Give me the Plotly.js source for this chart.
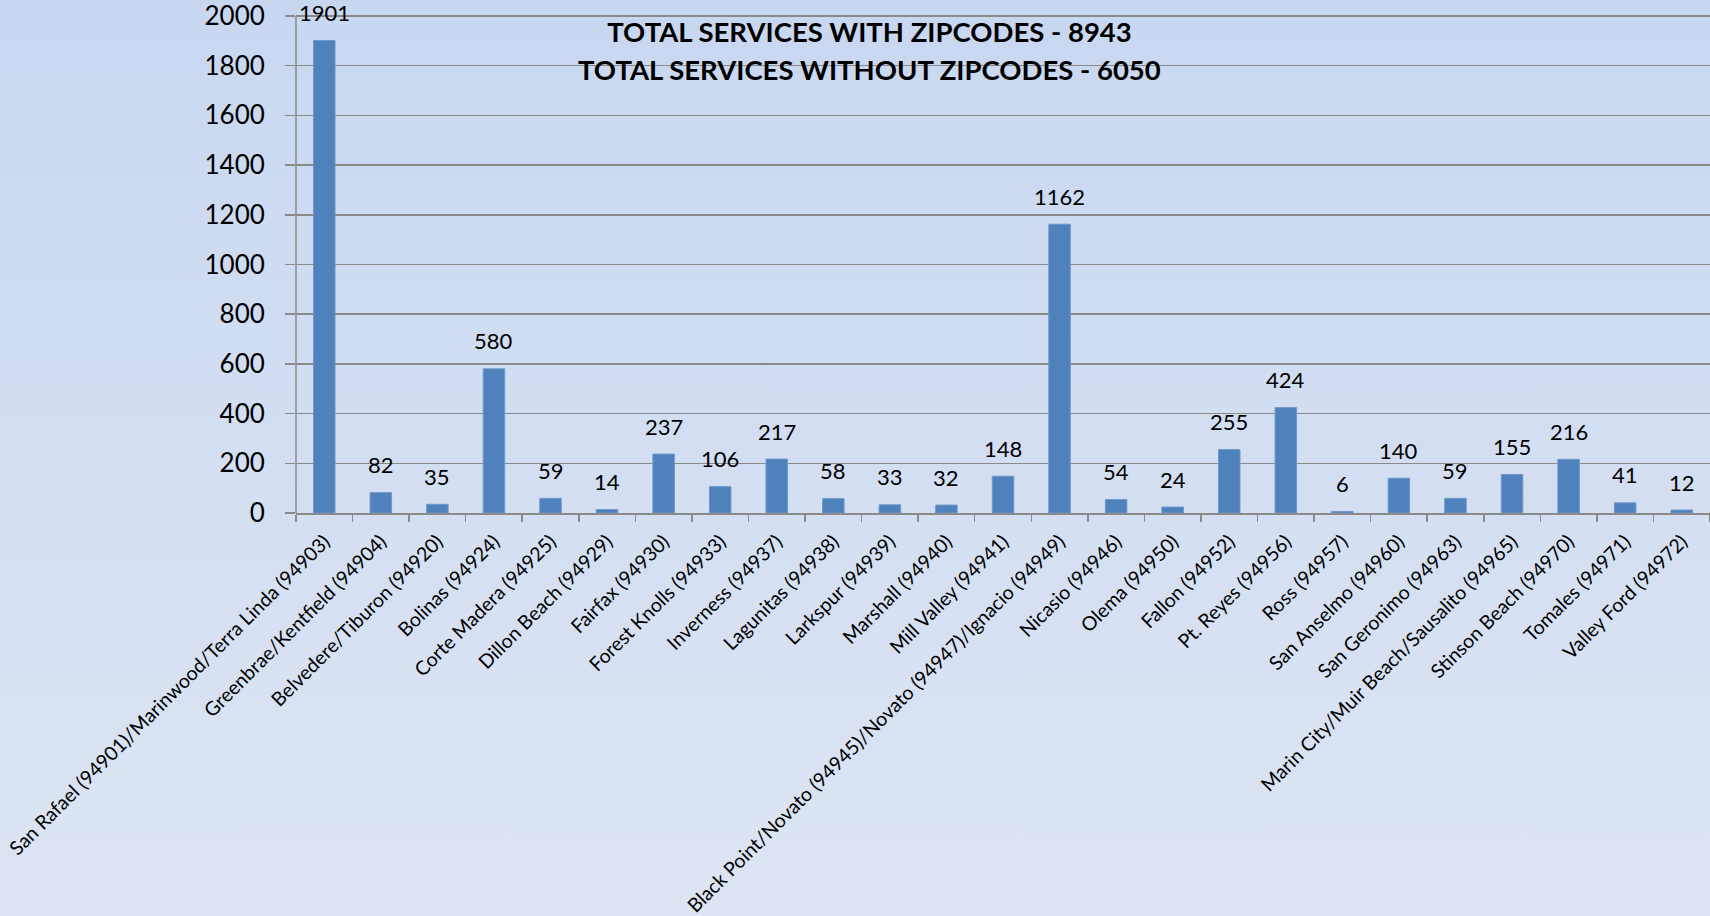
<!DOCTYPE html>
<html>
<head>
<meta charset="utf-8">
<script src="https://cdn.plot.ly/plotly-3.0.1.min.js"></script>
<style>
  html, body { margin: 0; padding: 0; width: 1710px; height: 916px; overflow: hidden; }
  body { background: linear-gradient(to bottom, #c8d7f0 0%, #d3def2 50%, #dde5f3 100%); }
  #chart { width: 1710px; height: 916px; }
</style>
</head>
<body>
<div id="chart"></div>
<script>
const categories = [
  "San Rafael (94901)/Marinwood/Terra Linda (94903)",
  "Greenbrae/Kentfield (94904)",
  "Belvedere/Tiburon (94920)",
  "Bolinas (94924)",
  "Corte Madera (94925)",
  "Dillon Beach (94929)",
  "Fairfax (94930)",
  "Forest Knolls (94933)",
  "Inverness (94937)",
  "Lagunitas (94938)",
  "Larkspur (94939)",
  "Marshall (94940)",
  "Mill Valley (94941)",
  "Black Point/Novato (94945)/Novato (94947)/Ignacio (94949)",
  "Nicasio (94946)",
  "Olema (94950)",
  "Fallon (94952)",
  "Pt. Reyes (94956)",
  "Ross (94957)",
  "San Anselmo (94960)",
  "San Geronimo (94963)",
  "Marin City/Muir Beach/Sausalito (94965)",
  "Stinson Beach (94970)",
  "Tomales (94971)",
  "Valley Ford (94972)"
];
const services = [1901, 82, 35, 580, 59, 14, 237, 106, 217, 58, 33, 32, 148, 1162, 54, 24, 255, 424, 6, 140, 59, 155, 216, 41, 12];
const yTickValues = [0, 200, 400, 600, 800, 1000, 1200, 1400, 1600, 1800, 2000];
const titleLines = ["TOTAL SERVICES WITH ZIPCODES - 8943", "TOTAL SERVICES WITHOUT ZIPCODES - 6050"];

const FONT = "Lato, Carlito, Calibri, 'Open Sans', sans-serif";
const GRID = "#8a8a8a";

const trace = {
  type: "bar",
  x: categories,
  y: services,
  marker: { color: "#4f81bd", line: { color: "#6f97c9", width: 1 } },
  hoverinfo: "x+y"
};

const annotations = categories.map((c, i) => ({
  x: c, y: services[i], xref: "x", yref: "y",
  text: String(services[i]),
  showarrow: false, yanchor: "middle", yshift: 28,
  font: { family: FONT, size: 22, color: "#000" }
}));

annotations.push({
  x: 0.4058, y: 0.8725, xref: "paper", yref: "paper",
  xanchor: "center", yanchor: "middle",
  text: titleLines[1], showarrow: false,
  font: { family: FONT, size: 27.5, color: "#000", weight: "bold" }
});

const layout = {
  width: 1710, height: 916,
  margin: { l: 296, r: 0, t: 5, b: 403, pad: 0 },
  paper_bgcolor: "rgba(0,0,0,0)",
  plot_bgcolor: "rgba(0,0,0,0)",
  font: { family: FONT, color: "#000" },
  showlegend: false,
  bargap: 0.62,
  title: {
    text: titleLines[0],
    font: { family: FONT, size: 27.5, color: "#000", weight: "bold" },
    x: 0.5085, xref: "container", xanchor: "center",
    y: 0.9645, yref: "container", yanchor: "middle"
  },
  xaxis: {
    type: "category",
    automargin: false,
    tickangle: -45,
    tickfont: { family: FONT, size: 19.5, color: "#000" },
    ticklabelstandoff: 8,
    showline: true, linecolor: GRID, linewidth: 1.5,
    ticks: "outside", tickson: "boundaries", ticklen: 7, tickcolor: GRID, tickwidth: 1.5,
    showgrid: false, zeroline: false
  },
  yaxis: {
    range: [0, 2044],
    automargin: false,
    tickvals: yTickValues,
    ticktext: yTickValues.map(String),
    tickfont: { family: FONT, size: 26, color: "#000" },
    ticklabeloverflow: "allow",
    showline: false,
    ticks: "outside", ticklen: 10, tickcolor: GRID, tickwidth: 1.5,
    ticklabelstandoff: 15,
    showgrid: true, gridcolor: GRID, gridwidth: 1.5,
    zeroline: false
  },
  shapes: [{
    type: "line", xref: "paper", yref: "y",
    x0: 0, x1: 0, y0: 0, y1: yTickValues[yTickValues.length - 1],
    line: { color: GRID, width: 1.5 }
  }],
  annotations: annotations
};

Plotly.newPlot("chart", [trace], layout, { displayModeBar: false, staticPlot: true });
</script>
</body>
</html>
